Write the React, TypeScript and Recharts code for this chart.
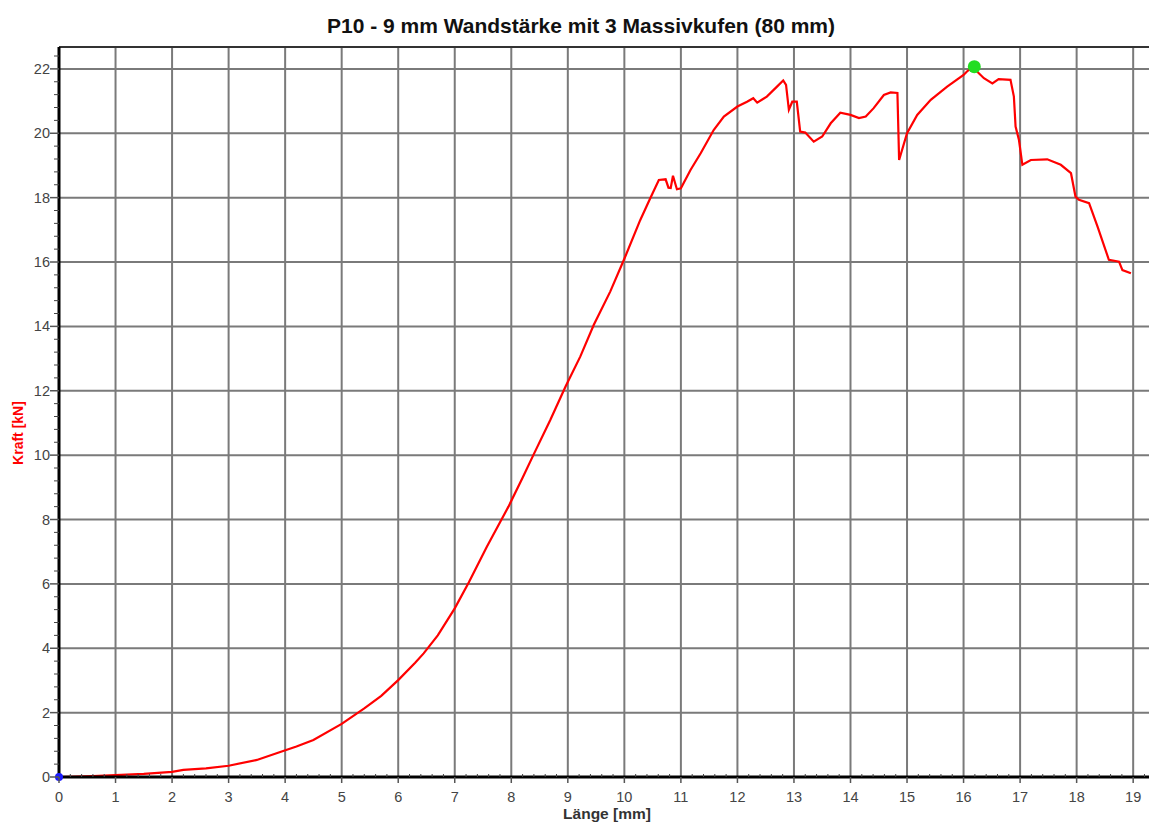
import { LineChart, Line, XAxis, YAxis, CartesianGrid, ReferenceDot, ReferenceLine } from "recharts";

// Weg (mm) und Kraft (kN)
const lengthMm = [
  0, 0.3, 0.6, 1.0, 1.5, 2.0, 2.2, 2.6, 3.0, 3.5, 3.9, 4.2, 4.5, 5.0, 5.4, 5.7, 6.0, 6.3, 6.45, 6.7,
  7.0, 7.25, 7.57, 7.95, 8.2, 8.39, 8.69, 8.96, 9.22, 9.46, 9.75, 10.0, 10.28, 10.45, 10.61, 10.73,
  10.78, 10.82, 10.86, 10.93, 11.0, 11.17, 11.35, 11.58, 11.76, 12.0, 12.17, 12.28, 12.35, 12.52,
  12.7, 12.81, 12.86, 12.91, 12.97, 13.05, 13.11, 13.2, 13.35, 13.5, 13.65, 13.82, 14.0, 14.15,
  14.27, 14.41, 14.59, 14.71, 14.83, 14.86, 15.0, 15.18, 15.42, 15.71, 16.0, 16.06, 16.16, 16.36,
  16.51, 16.62, 16.83, 16.89, 16.92, 16.98, 17.04, 17.19, 17.48, 17.72, 17.9, 17.98, 18.04, 18.22,
  18.37, 18.57, 18.75, 18.81, 18.96,
];
const forceKn = [
  0, 0.01, 0.03, 0.06, 0.1, 0.16, 0.22, 0.27, 0.35, 0.53, 0.77, 0.95, 1.15, 1.65, 2.13, 2.52, 3.01,
  3.55, 3.84, 4.4, 5.24, 6.05, 7.16, 8.4, 9.3, 10.0, 11.09, 12.13, 13.06, 14.05, 15.08, 16.1, 17.3,
  17.95, 18.55, 18.57, 18.31, 18.3, 18.68, 18.26, 18.29, 18.86, 19.38, 20.1, 20.52, 20.83, 20.98,
  21.09, 20.95, 21.14, 21.45, 21.64, 21.5, 20.73, 20.98, 20.98, 20.05, 20.02, 19.74, 19.9, 20.31,
  20.64, 20.57, 20.47, 20.52, 20.78, 21.19, 21.27, 21.25, 19.17, 20.0, 20.57, 21.04, 21.45, 21.81,
  21.92, 22.05, 21.71, 21.55, 21.68, 21.66, 21.14, 20.21, 19.79, 19.02, 19.17, 19.19, 19.02, 18.76,
  18.03, 17.93, 17.83, 17.1, 16.07, 16.01, 15.75, 15.65,
];

const xMajorTicks = [0, 1, 2, 3, 4, 5, 6, 7, 8, 9, 10, 11, 12, 13, 14, 15, 16, 17, 18, 19];
const yMajorTicks = [0, 2, 4, 6, 8, 10, 12, 14, 16, 18, 20, 22];
const startPoint = { x: 0, y: 0 };
const maxPoint = { x: 16.19, y: 22.07 };

const xMax = 19.28;
const yMax = 22.68;

const data = lengthMm.map((x, i) => ({ x, y: forceKn[i] }));

// Nebenteilung: 0.2 mm bzw. 0.4 kN
const xTicks: number[] = [];
for (let i = 0; i <= 96; i++) xTicks.push(+(i * 0.2).toFixed(2));
const yTicks: number[] = [];
for (let i = 0; i <= 56; i++) yTicks.push(+(i * 0.4).toFixed(2));

const isMajor = (v: number, step: number) => Math.abs(v / step - Math.round(v / step)) < 1e-6;

const labelFont = "'Liberation Sans', Arial, sans-serif";

function XTick({ x, y, payload }: any) {
  const major = isMajor(payload.value, 1);
  return (
    <g>
      {major ? (
        <line x1={x} y1={y} x2={x} y2={y + 6} stroke="#555" strokeWidth={1.5} />
      ) : (
        <line x1={x} y1={y - 3} x2={x} y2={y} stroke="#444" strokeWidth={1} />
      )}
      {major && (
        <text x={x} y={y + 25} textAnchor="middle" fontSize={14.5} fill="#444" fontFamily={labelFont}>
          {Math.round(payload.value)}
        </text>
      )}
    </g>
  );
}

function YTick({ x, y, payload }: any) {
  const major = isMajor(payload.value, 2);
  return (
    <g>
      {major ? (
        <line x1={x - 9} y1={y} x2={x} y2={y} stroke="#555" strokeWidth={1.5} />
      ) : (
        <line x1={x - 5} y1={y} x2={x} y2={y} stroke="#444" strokeWidth={1} />
      )}
      {major && (
        <text x={x - 9} y={y + 5} textAnchor="end" fontSize={14.5} fill="#444" fontFamily={labelFont}>
          {Math.round(payload.value)}
        </text>
      )}
    </g>
  );
}

export default function App() {
  return (
    <div style={{ position: "absolute", left: 0, top: 0, width: 1149, height: 823, background: "#fff", fontFamily: labelFont }}>
      <div
        style={{
          position: "absolute",
          left: 0,
          width: 1162,
          top: 14,
          textAlign: "center",
          fontSize: 21,
          fontWeight: "bold",
          color: "#111",
        }}
      >
        P10 - 9 mm Wandstärke mit 3 Massivkufen (80 mm)
      </div>
      <div
        style={{
          position: "absolute",
          left: 18,
          top: 433,
          transform: "translate(-50%, -50%) rotate(-90deg)",
          fontSize: 14,
          fontWeight: "bold",
          color: "#ff0000",
          whiteSpace: "nowrap",
        }}
      >
        Kraft [kN]
      </div>
      <div
        style={{
          position: "absolute",
          left: 0,
          width: 1214,
          top: 805,
          textAlign: "center",
          fontSize: 15.5,
          fontWeight: "bold",
          color: "#333",
        }}
      >
        Länge [mm]
      </div>
      <LineChart
        width={1149}
        height={823}
        data={data}
        margin={{ top: 47, right: 0, bottom: 0, left: 0 }}
        style={{ position: "absolute", left: 0, top: 0 }}
      >
        <CartesianGrid
          stroke="#7a7a7a"
          strokeWidth={2}
          verticalValues={xMajorTicks}
          horizontalValues={yMajorTicks}
        />
        <XAxis
          type="number"
          dataKey="x"
          domain={[0, xMax]}
          ticks={xTicks}
          interval={0}
          height={46}
          tickSize={0}
          tickMargin={0}
          tickLine={false}
          tick={<XTick />}
          axisLine={{ stroke: "#000", strokeWidth: 3 }}
          allowDataOverflow
        />
        <YAxis
          type="number"
          dataKey="y"
          domain={[0, yMax]}
          ticks={yTicks}
          interval={0}
          width={59}
          tickSize={0}
          tickMargin={0}
          tickLine={false}
          tick={<YTick />}
          axisLine={{ stroke: "#000", strokeWidth: 3 }}
          allowDataOverflow
        />
        <ReferenceLine y={yMax} stroke="#333" strokeWidth={2} />
        <Line
          type="linear"
          dataKey="y"
          stroke="#ff0000"
          strokeWidth={2.2}
          dot={false}
          isAnimationActive={false}
        />
        <ReferenceDot x={startPoint.x} y={startPoint.y} r={4} fill="#1a1aff" stroke="none" />
        <ReferenceDot x={maxPoint.x} y={maxPoint.y} r={6.5} fill="#22dd22" stroke="none" />
      </LineChart>
    </div>
  );
}
